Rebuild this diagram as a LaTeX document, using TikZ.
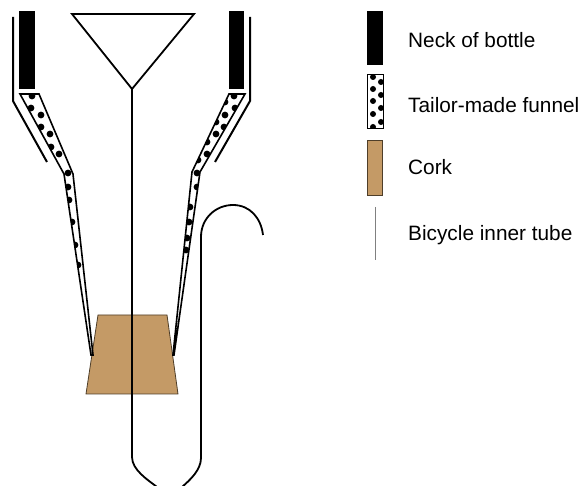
\documentclass[tikz,border=0pt]{standalone}
\usepackage{fontspec}
\setmainfont{Liberation Sans}
\definecolor{corkbrown}{HTML}{C49A66}
\tikzset{
  wall/.style={draw=black,line width=2pt,line join=miter},
  tube/.style={draw=black,line width=1.8pt},
  cork/.style={fill=corkbrown,draw=black!60!corkbrown,line width=0.8pt},
  legendtext/.style={anchor=west,inner sep=0pt,font=\fontsize{20.8}{24}\selectfont}
}
\begin{document}
\begin{tikzpicture}[x=1pt,y=-1pt]
\useasboundingbox (0,0) rectangle (582,486);
% cork
\draw[cork] (98,315)--(167,315)--(178,394)--(86,394)--cycle;
% necks
\fill[black] (19,11) rectangle (35,89);
\fill[black] (229,11) rectangle (244,89);
\draw[wall] (13,17)--(13,101)--(47,162);
\draw[wall] (250,17)--(250,101)--(215,162);
% left funnel
\begin{scope}
\clip (20,94)--(39,94)--(73,174)--(93,355)--(91,355)--(64,174)--cycle;
\foreach \x/\y in {32/96,31/108,41/115,41/127,50/134,51/147,59/154,68/173,68/187,69/200,72/222,75/245,78/265}
  \fill[black] (\x,\y) circle (3.4pt);
\end{scope}
\draw[wall,line width=1.6pt] (20,94)--(39,94)--(73,174)--(93,355)--(91,355)--(64,174)--cycle;
% right funnel
\begin{scope}
\clip (229,94)--(245,94)--(200,172)--(174,355)--(173,355)--(192,172)--cycle;
\foreach \x/\y in {234/96,225/102,235/108,225/115,216/122,224/127,216/134,207/142,207/154,198/160,197/173,197/187,190/207,189/222,187/238,186/250}
  \fill[black] (\x,\y) circle (3.4pt);
\end{scope}
\draw[wall,line width=1.6pt] (229,94)--(245,94)--(200,172)--(174,355)--(173,355)--(192,172)--cycle;
% inner tube
\draw[tube] (72,14)--(194,14)--(132,89)--cycle;
\draw[tube] (132,89)--(132,457) .. controls (132,470) and (148,480) .. (157,487);
\draw[tube] (182,487) .. controls (190,480) and (201,470) .. (201,458)--(201,237)
  .. controls (201,218) and (216,205) .. (233,205) .. controls (250,205) and (261,218) .. (263,235);
% legend
\fill[black] (367,11) rectangle (383,65);
\begin{scope}
\clip (367,74) rectangle (383,128);
\foreach \x/\y in {373/77,381/82,373/89,381/95,373/101,381/108,373/114,381/122,373/127}
  \fill[black] (\x,\y) circle (3pt);
\end{scope}
\draw[black,line width=0.8pt] (367,74) rectangle (383,128);
\draw[cork] (367,140) rectangle (382,195);
\draw[gray,line width=0.9pt] (375,207)--(375,260);
\node[legendtext] (neck) at (408,40) {Neck of bottle};
\node[legendtext] (funnel) at (408,105) {Tailor-made funnel};
\node[legendtext] (corklabel) at (408,167) {Cork};
\node[legendtext] (tubelabel) at (408,235) {Bicycle inner tube};
\end{tikzpicture}
\end{document}
